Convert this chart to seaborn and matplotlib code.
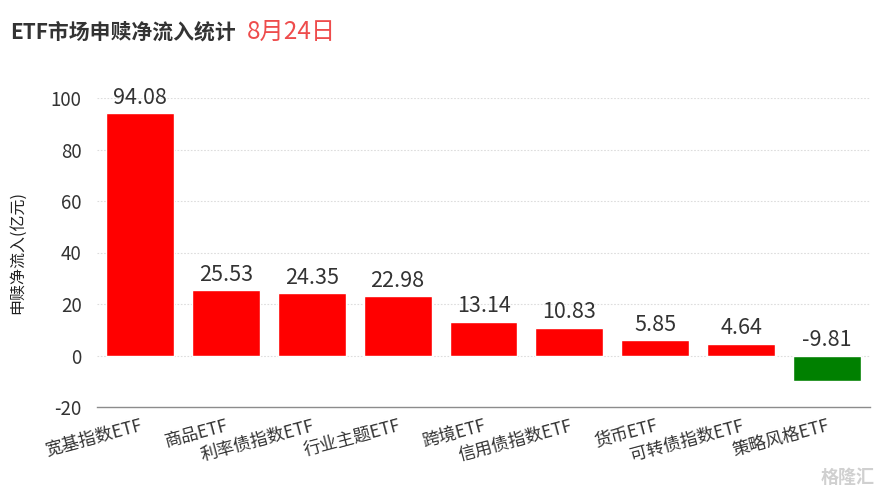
import matplotlib
matplotlib.use("Agg")
import matplotlib.pyplot as plt
import seaborn as sns
import numpy as np
import pandas as pd

# --- 数据 ---
categories = ["宽基指数ETF", "商品ETF", "利率债指数ETF", "行业主题ETF", "跨境ETF",
              "信用债指数ETF", "货币ETF", "可转债指数ETF", "策略风格ETF"]
values = [94.08, 25.53, 24.35, 22.98, 13.14, 10.83, 5.85, 4.64, -9.81]
y_ticks = [-20, 0, 20, 40, 60, 80, 100]
title_main = "ETF市场申赎净流入统计"
title_date = "8月24日"
y_label = "申赎净流入(亿元)"

sns.set_theme(style="white")
plt.rcParams["font.family"] = ["Noto Sans CJK SC", "DejaVu Sans"]
plt.rcParams["axes.unicode_minus"] = False

df = pd.DataFrame({"类别": categories, "净流入": values})
colors = ["#ff0000" if v >= 0 else "#008000" for v in values]

fig = plt.figure(figsize=(8.88, 4.95), dpi=100)
ax = fig.add_axes([97 / 888, 88 / 495, (870 - 97) / 888, (407 - 98) / 495])

sns.barplot(data=df, x="类别", y="净流入", hue="类别", palette=colors,
            legend=False, width=0.79, saturation=1, ax=ax)

ax.set_ylim(-20, 100)
ax.set_xlim(-0.5, len(categories) - 0.5)
ax.set_yticks(y_ticks)
ax.set_yticklabels([str(t) for t in y_ticks])
for t in y_ticks[1:]:
    ax.axhline(t, color="#dddddd", lw=0.8, ls=(0, (1.5, 1.5)), zorder=0)

# 数值标签
for p, v in zip(ax.patches, values):
    xc = p.get_x() + p.get_width() / 2
    ax.annotate(f"{v:.2f}", (xc, max(v, 0)), xytext=(0, 3), textcoords="offset points",
                ha="center", va="bottom", fontsize=15.5, color="#333333")

# 坐标轴样式
for s in ["top", "right", "left"]:
    ax.spines[s].set_visible(False)
ax.spines["bottom"].set_color("#8c8c8c")
ax.spines["bottom"].set_linewidth(1)
ax.set_xticks(np.arange(-0.5, len(categories)), minor=True)
ax.tick_params(axis="x", which="minor", length=5, color="#8c8c8c", width=1, direction="out")
ax.tick_params(axis="x", which="major", length=0, pad=7)
ax.tick_params(axis="y", length=0, pad=11, labelsize=13.5, labelcolor="#333333")
ax.set_xticks(range(len(categories)))
ax.set_xticklabels(categories, rotation=15, ha="right", rotation_mode="anchor",
                   fontsize=12.5, color="#333333")
ax.set_xlabel("")
ax.set_ylabel(y_label, fontsize=11.5, color="#222222", labelpad=18)

# 标题
fig.text(10 / 888, 1 - 32 / 495, title_main, fontsize=15, fontweight="bold",
         color="#333333", va="center", ha="left")
fig.text(247 / 888, 1 - 32 / 495, title_date, fontsize=17.5, color="#ee4c4c",
         va="center", ha="left")

# 水印
fig.text(0.985, 0.035, "格隆汇", fontsize=13, color="#d0d0d0", ha="right", va="center",
         fontweight="bold")

fig.savefig("out.png", dpi=100)
